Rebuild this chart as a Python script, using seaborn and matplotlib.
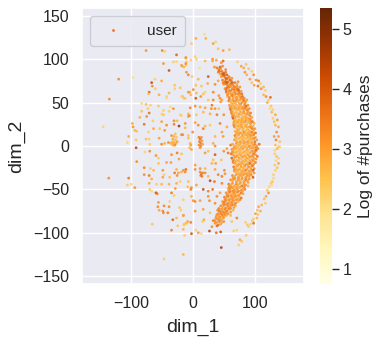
import matplotlib
matplotlib.use("Agg")
import matplotlib.pyplot as plt
import seaborn as sns
import pandas as pd

# points: (dim_1, dim_2, log of #purchases)
left_points = [
    (-76,110,2.9),(-50,110,3.1),(-46,109,2.0),(-27,105,3.6),(-12,101,2.4),(-27,97,1.9),(-32,97,2.0),(-48,95,2.9),
    (-11,97,2.0),(-18,92,2.5),(-12,93,2.1),(-39,87,3.9),(-11,85,2.9),(-8,82,3.1),(-120,77,3.0),(-97,79,1.7),
    (-67,73,4.0),(-62,77,2.0),(-51,75,2.6),(-66,69,3.0),(-30,70,2.2),(-21,67,2.2),(-30,66,2.0),(-61,66,2.1),
    (-71,62,3.6),(-72,60,2.2),(-55,59,2.5),(-39,61,2.4),(-43,57,2.0),(-43,55,1.8),(-8,62,2.9),(-17,57,2.3),
    (-13,55,2.0),(-135,54,3.0),(-83,49,1.9),(-76,48,2.3),(-69,47,2.0),(-56,46,2.2),(-37,45,1.8),(-32,43,2.9),
    (-73,43,2.1),(-48,41,2.0),(-83,40,2.3),(-71,38,3.4),(-39,40,2.0),(-75,34,3.0),(-86,33,2.5),(-51,37,1.9),
    (-48,36,2.2),(-8,37,2.4),(-21,36,2.0),(-8,34,2.8),(-98,26,2.6),(-97,22,2.9),(-79,25,3.4),(-65,29,2.1),
    (-51,28,2.7),(-31,29,3.0),(-26,29,2.4),(-23,23,4.6),(-43,24,3.0),(-31,25,3.2),(-145,22,1.9),(-94,18,2.4),
    (-91,17,2.2),(-72,16,2.0),(-64,20,2.6),(-54,20,2.2),(-46,18,2.9),(-104,11,2.6),(-106,4,1.9),(-92,7,2.2),
    (-92,-2,4.1),(-76,8,2.3),(-71,8,2.0),(-55,9,2.7),(-40,4,3.0),(-51,2,3.1),(-46,3,2.5),(-17,13,3.0),
    (-8,12,2.2),(-70,2,2.1),(-35,12,2.9),(-33,8,2.6),(-31,11,2.5),(-29,7,2.4),(-32,4,2.8),(-28,3,2.6),
    (-34,5,2.3),(-30,1,3.1),(-26,5,2.7),(-33,1,2.5),(-27,10,2.2),(-36,3,2.6),(-29,14,2.3),
    (-78,-7,1.9),(-70,-6,3.0),(-35,-10,3.0),(-26,-8,3.2),(-19,-9,2.2),(-60,-11,2.9),(-56,-14,2.1),(-23,-15,2.7),
    (-91,-18,3.0),(-56,-20,2.2),(-43,-19,2.7),(-36,-19,2.8),(-79,-25,3.1),(-69,-26,2.1),(-64,-28,2.4),(-27,-27,2.5),
    (-49,-28,2.9),(-12,-27,3.5),(-16,-28,2.9),(-30,-31,3.3),(-24,-31,2.7),(-79,-33,3.0),(-71,-34,3.3),(-47,-33,2.0),
    (-38,-36,2.3),(-26,-34,3.0),(-136,-37,3.0),(-104,-37,3.3),(-67,-38,2.5),(-49,-36,2.7),(-21,-41,2.0),(-71,-43,2.6),
    (-59,-44,2.1),(-51,-44,2.4),(-39,-44,2.5),(-27,-43,2.5),(-106,-45,2.1),(-100,-44,1.9),(-94,-48,2.9),(-29,-49,2.8),
    (-9,-47,2.3),(-70,-50,2.1),(-67,-52,1.9),(-60,-54,3.9),(-58,-55,3.2),(-35,-54,3.2),(-31,-57,2.1),(-56,-65,2.8),
    (-38,-64,2.0),(-39,-70,3.0),(-47,-69,3.1),(-57,-70,3.0),(-55,-74,2.6),(-49,-75,3.1),(-48,-77,3.0),(-41,-77,3.2),
    (-22,-71,2.2),(-20,-74,2.0),(-16,-80,3.0),(-27,-83,2.4),(-33,-85,3.6),(-9,-87,2.6),(-12,-89,2.2),(-66,-90,2.2),
    (-25,-92,2.2),(-15,-90,2.0),(-35,-97,3.2),(-16,-96,2.4),(-14,-103,2.1),(-16,-125,2.4),(-47,-130,2.0),
]

mid_points = [
    (18,129,1.8),(20,124,2.5),(4,124,2.6),(-3,118,2.1),(32,118,2.7),(36,120,2.0),(40,112,2.2),(48,110,2.8),
    (58,111,2.4),(3,103,2.0),(-12,102,2.9),(5,100,2.0),(-4,99,2.1),(19,98,2.4),(31,100,3.0),(31,98,2.6),
    (37,99,2.7),(45,96,2.9),(48,98,3.5),(-19,93,2.7),(-12,95,3.0),(-15,91,2.4),(10,90,1.7),(34,91,2.9),
    (24,80,3.8),(8,77,2.4),(-2,80,2.1),(23,72,2.5),(35,71,3.0),(40,75,2.6),(4,70,2.3),(13,69,2.2),
    (0,65,3.0),(-6,62,2.7),(5,61,2.4),(19,62,1.9),(16,60,2.2),(32,62,3.1),(-19,57,1.9),(-15,55,2.2),
    (4,55,3.9),(12,57,2.9),(-4,59,2.4),(32,53,3.1),(43,55,3.0),(41,58,2.9),(44,51,2.8),(46,53,2.7),
    (29,43,3.0),(35,43,2.9),(41,43,2.2),(-5,44,3.1),(3,46,3.0),(11,45,2.6),(19,44,2.7),(24,53,2.2),
    (30,47,3.3),(-6,35,2.9),(5,36,2.2),(16,39,2.4),(27,37,2.5),(38,36,3.2),(49,36,3.0),(-19,35,2.0),
    (3,27,2.7),(8,24,3.0),(19,23,2.4),(27,24,2.1),(43,26,3.2),(54,22,2.6),(-13,26,2.9),(-13,21,2.4),
    (-1,16,3.0),(16,20,3.2),(46,16,2.7),(35,11,2.4),(48,11,2.8),(-19,13,3.0),(-8,9,2.3),(32,3,2.6),
    (35,0,3.0),(9,10,3.2),(11,8,3.4),(13,10,2.9),(10,5,3.3),(12,3,3.2),(14,6,2.8),(9,1,3.0),
    (12,0,3.1),(15,2,2.7),(11,-2,2.9),(-4,1,2.8),(-6,-2,2.4),(-3,-4,2.7),(-5,3,2.5),(54,-3,2.7),
    (19,-8,2.8),(24,-6,2.3),(35,-10,3.8),(49,-6,2.9),(56,-8,3.3),(30,-20,2.5),(36,-20,2.7),(45,-16,2.2),
    (32,-16,2.3),(46,-35,3.2),(40,-33,3.1),(51,-32,2.9),(19,-31,3.0),(11,-30,3.0),(13,-32,3.2),(15,-31,3.1),
    (12,-34,3.3),(14,-35,3.2),(24,-35,2.4),(3,-22,2.8),(11,-26,2.9),(19,-26,2.4),(3,-27,3.0),(-13,-30,3.0),
    (-19,-30,2.5),(-8,-41,2.3),(5,-45,2.7),(27,-40,4.1),(34,-41,3.4),(46,-43,3.1),(50,-28,3.0),(35,-27,2.6),
    (-4,-50,3.2),(-3,-48,3.0),(16,-50,4.0),(31,-50,3.4),(24,-52,3.2),(38,-58,3.0),(43,-54,2.7),(-16,-62,2.0),
    (-3,-58,2.5),(0,-63,2.9),(11,-63,2.7),(3,-64,3.0),(24,-58,2.9),(26,-63,3.0),(35,-66,3.0),(3,-75,2.9),
    (16,-73,2.7),(27,-77,2.2),(-16,-80,2.6),(-4,-88,3.2),(-11,-89,2.3),(-15,-91,2.1),(17,-85,2.6),(15,-87,2.1),
    (32,-86,3.2),(35,-89,3.0),(38,-92,3.5),(30,-93,3.0),(62,-87,2.2),(70,-83,3.2),(60,-80,2.4),(65,-98,2.0),
    (70,-97,1.9),(44,-99,3.9),(26,-98,4.2),(37,-100,3.4),(13,-101,1.9),(8,-100,2.8),(4,-97,2.0),(-3,-101,3.8),
    (45,-117,4.2),(73,-114,2.0),(75,-108,2.6),(78,-110,2.2),(85,-103,2.1),
]

band_points = [
    (38,90,3.2),(41,88,3.4),(44,89,2.9),(40,85,3.0),(46,86,3.3),(43,83,2.7),(49,84,3.6),(52,88,3.1),
    (45,80,2.9),(48,81,3.3),(51,79,3.4),(54,82,3.6),(57,80,3.0),(47,76,3.2),(50,75,2.8),(53,77,3.7),(56,74,3.3),(59,76,3.6),(62,78,3.0),
    (49,71,2.9),(52,72,3.4),(55,70,3.2),(58,71,2.7),(61,72,3.5),(64,70,3.1),(67,73,3.3),(70,71,2.6),(72,74,3.0),
    (51,66,3.0),(54,67,3.5),(57,65,2.8),(60,68,2.6),(63,66,3.2),(66,65,3.4),(69,67,2.7),(72,66,3.3),(75,68,2.9),
    (53,62,3.3),(56,61,2.7),(59,63,2.5),(62,60,3.0),(65,62,2.6),(68,60,3.2),(71,63,2.4),(74,61,3.5),(77,63,2.8),
    (55,57,2.6),(58,56,3.1),(61,58,2.5),(64,55,2.8),(67,57,2.4),(70,56,2.9),(73,58,2.6),(76,56,3.1),(79,57,3.5),(82,55,2.9),
    (57,52,3.2),(60,51,2.5),(63,53,2.7),(66,50,2.4),(69,52,2.9),(72,51,2.5),(75,53,2.8),(78,50,3.0),(81,52,3.4),(84,51,2.7),
    (58,47,2.8),(61,46,2.6),(64,48,2.4),(67,45,2.7),(70,47,2.5),(73,46,2.3),(76,48,2.9),(79,45,2.6),(82,47,2.8),(85,46,3.6),(88,47,2.9),
    (60,42,3.6),(63,41,2.4),(66,43,2.6),(69,40,2.3),(72,42,2.7),(75,41,2.4),(78,43,2.6),(81,40,2.9),(84,42,2.5),(87,41,3.2),(90,43,3.0),
    (62,37,3.0),(65,36,2.7),(68,38,2.3),(71,35,2.5),(74,37,2.8),(77,36,2.4),(80,38,2.6),(83,35,2.3),(86,37,2.9),(89,36,2.6),(92,38,3.3),
    (64,32,4.0),(67,31,2.5),(70,33,2.2),(73,30,2.6),(76,32,2.3),(79,31,2.7),(82,33,2.4),(85,30,2.8),(88,32,2.5),(91,31,3.1),(94,33,2.7),
    (65,27,2.8),(68,26,2.4),(71,28,2.6),(74,25,2.3),(77,27,2.7),(80,26,2.4),(83,28,2.9),(86,25,2.5),(89,27,2.3),(92,26,3.0),(95,28,3.4),(98,26,2.6),
    (66,22,3.0),(69,21,2.3),(72,23,2.7),(75,20,2.4),(78,22,2.8),(81,21,2.4),(84,23,2.6),(87,20,2.3),(90,22,2.7),(93,21,3.0),(96,23,2.5),(99,20,2.9),
    (67,17,2.5),(70,16,2.8),(73,18,2.4),(76,15,2.7),(79,17,2.3),(82,16,3.1),(85,18,2.4),(88,15,2.7),(91,17,2.4),(94,16,3.3),(97,18,2.6),(100,15,3.5),
    (67,12,3.2),(70,11,2.4),(73,13,2.7),(76,10,2.4),(79,12,2.8),(82,11,2.3),(85,13,2.6),(88,10,2.4),(91,12,2.8),(94,11,2.5),(97,13,3.2),(100,10,2.7),
    (66,7,2.7),(69,6,2.5),(72,8,2.3),(75,5,2.8),(78,7,2.4),(81,6,2.7),(84,8,2.3),(87,5,3.0),(90,7,2.5),(93,6,2.4),(96,8,2.7),(99,5,3.4),(102,7,2.8),
    (60,1,3.3),(63,2,2.7),(66,0,2.5),(69,3,2.8),(72,1,2.4),(75,2,2.6),(78,0,2.3),(81,3,2.7),(84,1,2.4),(87,2,2.6),(90,0,3.0),(93,3,2.5),(96,1,2.7),(99,2,3.2),(102,0,2.9),(106,2,3.4),
    (62,-4,2.9),(65,-5,2.5),(68,-3,2.7),(71,-6,2.4),(74,-4,2.6),(77,-5,2.3),(80,-3,2.8),(83,-6,2.4),(86,-4,2.7),(89,-5,2.4),(92,-3,2.6),(95,-6,3.0),(98,-4,2.5),(101,-5,3.6),(104,-3,3.1),
    (61,-9,3.4),(64,-10,2.7),(67,-8,2.4),(70,-11,2.8),(73,-9,2.4),(76,-10,2.7),(79,-8,2.4),(82,-11,2.6),(85,-9,2.3),(88,-10,2.8),(91,-8,2.5),(94,-11,2.7),(97,-9,3.3),(100,-10,2.9),(103,-12,3.4),
    (62,-14,3.8),(65,-15,2.5),(68,-13,2.8),(71,-16,2.4),(74,-14,2.7),(77,-15,2.3),(80,-13,2.6),(83,-16,2.5),(86,-14,2.8),(89,-15,2.4),(92,-13,2.7),(95,-16,3.0),(98,-14,2.6),(101,-15,2.9),
    (64,-19,3.0),(67,-20,2.7),(70,-18,2.4),(73,-21,2.8),(76,-19,2.5),(79,-20,2.7),(82,-18,2.4),(85,-21,2.9),(88,-19,2.5),(91,-20,3.6),(94,-18,2.6),(97,-21,2.9),(100,-19,3.2),
    (65,-24,3.3),(68,-25,2.5),(71,-23,2.8),(74,-26,2.4),(77,-24,2.7),(80,-25,2.5),(83,-23,2.9),(86,-26,2.5),(89,-24,3.0),(92,-25,2.6),(95,-23,3.4),(98,-26,3.0),
    (66,-29,2.8),(69,-30,2.5),(72,-28,2.7),(75,-31,2.4),(78,-29,2.8),(81,-30,2.5),(84,-28,3.3),(87,-31,2.6),(90,-29,2.8),(93,-30,2.6),(96,-28,3.7),(98,-31,2.9),
    (63,-34,3.0),(66,-35,2.6),(69,-33,2.8),(72,-36,2.5),(75,-34,2.9),(78,-35,2.6),(81,-33,2.8),(84,-36,2.5),(87,-34,3.0),(90,-35,2.7),(93,-33,3.1),(96,-36,3.8),
    (60,-39,2.9),(63,-40,2.7),(66,-38,3.1),(69,-41,2.6),(72,-39,2.9),(75,-40,2.5),(78,-38,2.8),(81,-41,2.6),(84,-39,3.2),(87,-40,2.7),(90,-38,2.9),
    (57,-44,3.3),(60,-45,2.6),(63,-43,2.9),(66,-46,2.6),(69,-44,3.0),(72,-45,2.6),(75,-43,2.8),(78,-46,3.4),(81,-44,2.7),(84,-45,3.0),(88,-46,2.5),
    (56,-49,2.7),(59,-50,3.1),(62,-48,2.7),(65,-51,3.0),(68,-49,2.6),(71,-50,2.9),(74,-48,2.6),(77,-51,3.0),(80,-49,2.7),(83,-50,3.2),
    (53,-54,3.0),(56,-55,2.7),(59,-53,3.2),(62,-56,2.7),(65,-54,3.0),(68,-55,2.6),(71,-53,3.1),(74,-56,2.8),(77,-54,3.3),(80,-55,2.7),
    (50,-59,3.2),(53,-60,2.8),(56,-58,3.3),(59,-61,2.7),(62,-59,3.0),(65,-60,2.7),(68,-58,3.1),(71,-61,2.7),(74,-59,2.5),(77,-60,3.4),
    (47,-64,2.9),(50,-65,3.3),(53,-63,2.8),(56,-66,3.1),(59,-64,2.7),(62,-65,3.0),(65,-63,2.7),(68,-66,3.2),(72,-64,2.6),
    (44,-69,3.0),(47,-70,2.7),(50,-68,3.2),(53,-71,2.8),(56,-69,3.1),(59,-70,2.7),(62,-68,3.3),(65,-71,2.8),(68,-69,2.4),
    (39,-74,2.9),(42,-75,3.3),(45,-73,2.7),(48,-76,3.1),(51,-74,2.8),(54,-75,3.2),(57,-73,2.7),(60,-76,2.9),(64,-74,2.5),
    (38,-79,2.8),(41,-80,2.5),(44,-78,3.0),(47,-81,2.7),(50,-79,3.1),(53,-80,2.7),(56,-78,2.9),
    (36,-83,2.7),(39,-84,3.0),(42,-82,2.6),(45,-85,2.9),(48,-83,2.7),(42,-87,3.1),(46,-88,2.6),
]

# second pass over the dense band, filling what the first pass left open
band_fill = [
    (43,91,3.6),(47,92,3.1),(42,86,3.5),(47,83,3.8),(52,85,3.3),(50,82,3.7),(55,78,3.4),(52,74,3.6),(58,79,3.0),(61,75,3.3),
    (48,73,3.2),(54,73,3.7),(57,68,3.3),(60,70,3.0),(63,73,3.6),(66,68,3.4),(70,69,2.9),(53,64,3.4),(58,63,2.9),(61,64,3.1),
    (64,67,2.8),(67,62,3.0),(70,65,3.2),(73,64,3.6),(55,59,3.0),(60,60,2.7),(63,58,3.2),(66,59,2.6),(69,54,2.8),(72,60,2.9),
    (75,59,2.7),(78,60,3.4),(80,54,3.1),(58,54,3.1),(62,49,2.6),(65,52,2.9),(68,49,2.5),(71,54,2.7),(74,49,2.6),(77,55,2.9),
    (83,49,3.0),(86,53,2.8),(59,44,3.0),(62,44,2.7),(65,46,2.5),(68,43,2.6),(71,44,2.4),(74,44,2.7),(77,45,2.5),(80,43,2.8),
    (83,44,3.2),(86,43,2.7),(61,39,3.1),(64,39,2.5),(67,34,2.7),(70,38,2.4),(73,34,2.5),(76,39,2.6),(79,34,2.4),(82,38,2.7),
    (85,34,2.5),(88,39,2.8),(91,35,3.0),(63,34,3.2),(66,29,2.7),(69,29,2.4),(72,27,2.6),(75,29,2.4),(78,29,2.6),(81,29,2.5),
    (84,32,2.6),(87,28,2.4),(90,29,2.6),(93,29,2.9),(65,24,3.1),(68,24,2.5),(71,19,2.6),(74,22,2.4),(77,24,2.7),(80,19,2.5),
    (83,24,2.4),(86,22,2.6),(89,18,2.5),(92,23,2.8),(95,20,3.1),(69,14,2.6),(72,15,2.5),(75,15,2.7),(78,14,2.4),(81,14,2.6),
    (84,15,2.4),(87,12,2.6),(90,14,2.6),(93,13,2.8),(96,15,2.7),(68,9,2.5),(71,4,2.6),(74,9,2.4),(77,4,2.6),(80,9,2.5),
    (83,4,2.7),(86,9,2.4),(89,4,2.6),(92,9,2.6),(95,4,2.6),(98,9,3.0),(65,-2,2.8),(68,0,2.5),(71,-2,2.6),(74,0,2.4),
    (77,-2,2.6),(80,0,2.4),(83,-1,2.6),(86,-2,2.5),(89,-1,2.7),(92,0,2.6),(95,-2,2.8),(98,-1,2.6),(101,-2,3.1),(63,-7,3.0),
    (66,-12,2.8),(69,-7,2.5),(72,-12,2.6),(75,-7,2.4),(78,-12,2.7),(81,-7,2.5),(84,-12,2.6),(87,-7,2.4),(90,-12,2.7),(93,-7,2.6),
    (96,-12,2.9),(99,-7,3.0),(64,-17,3.2),(67,-17,2.6),(70,-22,2.6),(73,-17,2.5),(76,-22,2.7),(79,-17,2.5),(82,-22,2.6),(85,-17,2.5),
    (88,-22,2.7),(91,-17,2.6),(94,-22,2.9),(97,-17,2.8),(66,-27,3.0),(69,-27,2.6),(72,-32,2.6),(75,-27,2.5),(78,-32,2.7),(81,-27,2.5),
    (84,-32,2.8),(87,-27,2.6),(90,-32,2.7),(93,-27,2.8),(64,-37,2.9),(67,-37,2.7),(70,-42,2.6),(73,-37,2.8),(76,-42,2.6),(79,-37,2.7),
    (82,-42,2.7),(85,-37,2.9),(88,-42,2.7),(58,-47,3.1),(61,-47,2.8),(64,-48,2.7),(67,-52,2.8),(70,-47,2.7),(73,-52,2.9),(76,-47,2.7),
    (79,-52,2.8),(82,-47,3.0),(54,-57,3.0),(57,-52,3.0),(60,-57,2.8),(63,-52,2.9),(66,-57,2.8),(69,-62,2.9),(72,-57,2.8),(75,-62,3.0),
    (51,-62,3.1),(54,-67,3.0),(57,-62,2.9),(60,-67,2.8),(63,-62,3.0),(66,-68,2.9),(48,-67,3.0),(51,-72,3.1),(54,-67,2.9),(57,-72,2.9),
    (60,-72,3.0),(63,-66,2.8),(41,-72,3.2),(44,-76,3.0),(47,-73,2.8),(50,-77,3.0),(53,-77,2.9),(40,-78,3.0),(43,-82,2.9),(46,-79,3.1),
    (49,-82,2.8),(37,-81,2.9),(41,-85,2.9),(35,-86,3.0),(38,-88,2.8),(44,-90,2.7),(49,-87,3.0),(40,-91,3.3),
]

arc_points = [
    (71,97,2.0),(77,92,2.7),(85,94,2.2),(81,90,2.6),(89,89,2.2),(94,86,2.0),(83,85,2.9),(86,82,2.5),(97,82,2.9),
    (101,76,3.0),(91,77,2.8),(105,75,3.2),(108,72,2.1),(94,73,2.2),(98,70,2.7),(113,68,2.4),(116,64,2.0),(109,66,2.9),
    (104,69,3.3),(117,57,3.0),(124,56,3.5),(121,53,2.1),(113,59,2.4),(119,50,2.5),(125,46,2.2),(123,43,1.8),(126,39,2.4),
    (128,42,2.0),(132,36,2.6),(128,32,2.0),(135,30,2.8),(130,28,2.3),(132,24,2.4),(137,22,2.6),(134,16,3.0),(130,11,2.8),
    (137,11,2.7),(133,7,3.1),(139,5,2.2),(132,1,2.3),(139,-1,2.0),(135,-3,2.4),(137,-1,2.1),(131,-5,1.9),(134,-12,2.2),
    (131,-9,2.0),(137,-14,2.0),(133,-17,1.8),(137,-20,2.6),(131,-22,2.1),(135,-25,2.2),(132,-28,2.0),(129,-33,2.0),
    (129,-37,1.9),(127,-41,2.2),(125,-43,2.0),(126,-45,1.8),(122,-47,1.9),(121,-54,2.9),(119,-51,2.2),(117,-58,2.6),
    (114,-61,2.3),(116,-66,2.1),(110,-68,2.4),(105,-70,2.6),(108,-75,2.5),(103,-74,2.3),(100,-78,2.8),(104,-79,2.1),
    (102,-83,2.4),(97,-84,2.0),(95,-86,2.2),(97,-89,3.4),(92,-90,2.0),(89,-93,2.0),(87,-91,2.2),(84,-88,2.0),
]

all_points = left_points + mid_points + band_points + band_fill + arc_points
df = pd.DataFrame(all_points, columns=["dim_1", "dim_2", "log_purchases"])
# first reads came out too pale against the colorbar
df["log_purchases"] = df["log_purchases"] + 0.3

sns.set(style="darkgrid")
plt.rcParams["font.family"] = ["Liberation Sans", "DejaVu Sans"]

fig = plt.figure(figsize=(3.84, 3.44), dpi=100)
ax = fig.add_axes([82 / 384, 1 - 284 / 344, 222 / 384, 276 / 344])

norm = plt.Normalize(0.75, 5.35)
sns.scatterplot(data=df, x="dim_1", y="dim_2", hue="log_purchases", hue_norm=norm,
                palette="YlOrBr", s=4, linewidth=0, alpha=0.85, legend=False, ax=ax)

ax.set_xlim(-179, 178)
ax.set_ylim(-159, 159)
ax.set_xticks([-100, 0, 100])
ax.set_yticks([-150, -100, -50, 0, 50, 100, 150])
ax.tick_params(labelsize=11.5, pad=3, colors="#262626")
ax.set_xlabel("dim_1", fontsize=14, labelpad=5)
ax.set_ylabel("dim_2", fontsize=14, labelpad=6)

handle = plt.Line2D([], [], linestyle="", marker="o", markersize=2, markeredgewidth=0,
                    color="#f0702a")
leg = ax.legend([handle], ["user"], loc="upper left", fontsize=11, frameon=True,
                handletextpad=1.2, borderpad=0.55, bbox_to_anchor=(0.0, 1.0))
leg.get_frame().set_edgecolor("#c4c4cc")

cax = fig.add_axes([320 / 384, 1 - 284 / 344, 12 / 384, 276 / 344])
sm = plt.cm.ScalarMappable(norm=norm, cmap="YlOrBr")
cbar = fig.colorbar(sm, cax=cax)
cbar.set_ticks([1, 2, 3, 4, 5])
cbar.ax.tick_params(labelsize=11.5, length=5, width=1, color="#262626", pad=2.5, right=True)
cbar.outline.set_visible(False)
cbar.set_label("Log of #purchases", fontsize=12.5, labelpad=5)

plt.savefig("out.png", dpi=100)
